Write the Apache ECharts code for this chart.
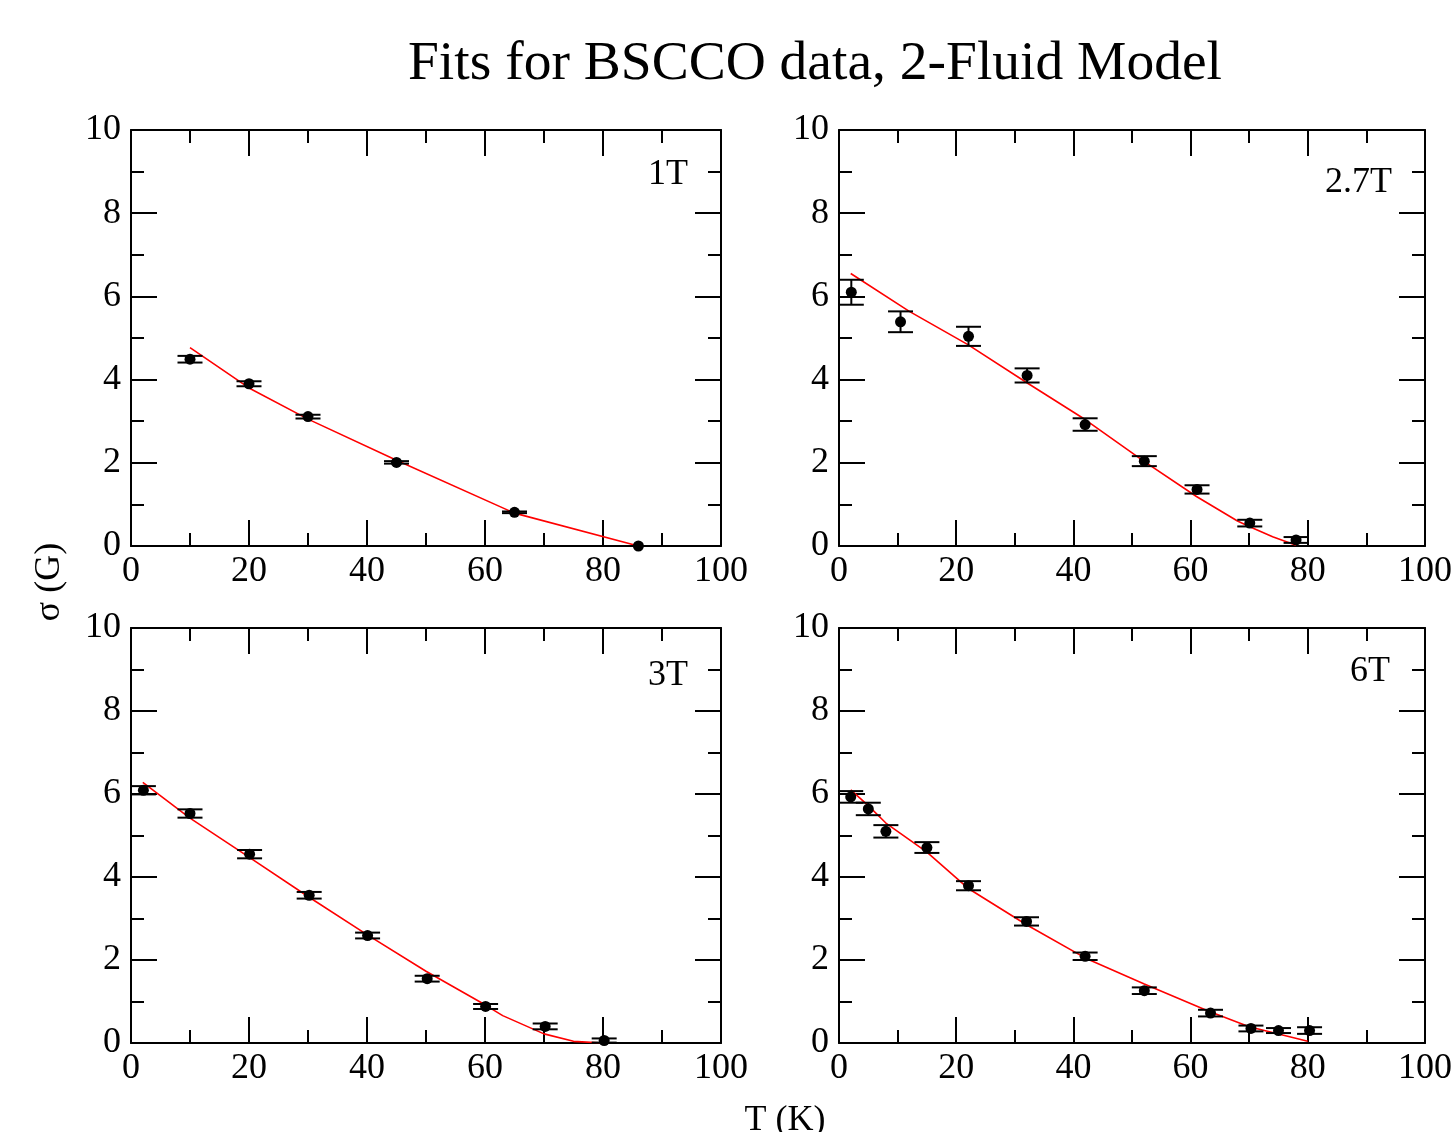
<!DOCTYPE html>
<html>
<head>
<meta charset="utf-8">
<script src="https://cdn.jsdelivr.net/npm/echarts@6/dist/echarts.min.js"></script>
<style>
html,body{margin:0;padding:0;background:#fff;}
#chart{width:1455px;height:1132px;}
</style>
</head>
<body>
<div id="chart"></div>
<script>
// ---------- Data ----------
const PANEL_LABELS = ['1T', '2.7T', '3T', '6T'];

// 1T
const T_1T = [10, 20, 30, 45, 65, 86];
const S_1T = [4.49, 3.90, 3.11, 2.01, 0.81, 0.0];
const E_1T = [0.08, 0.06, 0.045, 0.03, 0.02, 0.0];
const FIT_T_1T = [10, 20, 30, 45, 65, 86];
const FIT_S_1T = [4.77, 3.80, 3.05, 2.06, 0.79, 0.0];

// 2.7T
const T_27T = [2.1, 10.5, 22.1, 32.1, 42.0, 52.1, 61.1, 70.1, 78.0];
const S_27T = [6.10, 5.39, 5.04, 4.10, 2.92, 2.04, 1.36, 0.55, 0.145];
const E_27T = [0.30, 0.25, 0.23, 0.17, 0.15, 0.12, 0.10, 0.08, 0.07];
const FIT_T_27T = [2, 12, 22, 32, 42, 52, 61, 68, 70, 74, 78];
const FIT_S_27T = [6.55, 5.64, 4.84, 3.93, 3.04, 2.04, 1.19, 0.60, 0.47, 0.22, 0.02];

// 3T
const T_3T = [2.1, 10.0, 20.1, 30.2, 40.1, 50.2, 60.1, 70.2, 80.2];
const S_3T = [6.09, 5.53, 4.55, 3.56, 2.59, 1.55, 0.88, 0.40, 0.06];
const E_3T = [0.10, 0.10, 0.10, 0.08, 0.07, 0.07, 0.06, 0.07, 0.05];
const FIT_T_3T = [2, 10, 20, 30, 40, 50, 60, 63, 70, 75, 80];
const FIT_S_3T = [6.28, 5.42, 4.48, 3.53, 2.61, 1.73, 0.92, 0.66, 0.22, 0.04, 0.0];

// 6T
const T_6T = [2.0, 5.0, 8.0, 15.0, 22.1, 32.0, 42.0, 52.1, 63.4, 70.3, 75.0, 80.3];
const S_6T = [5.93, 5.64, 5.10, 4.71, 3.79, 2.93, 2.09, 1.26, 0.72, 0.35, 0.30, 0.30];
const E_6T = [0.14, 0.15, 0.15, 0.13, 0.11, 0.10, 0.09, 0.08, 0.08, 0.07, 0.06, 0.08];
const FIT_T_6T = [2, 5, 8, 15, 22, 32, 42, 52, 63, 70, 80];
const FIT_S_6T = [6.10, 5.72, 5.30, 4.60, 3.73, 2.85, 2.05, 1.43, 0.77, 0.39, 0.04];

const X_MIN = 0, X_MAX = 100, X_STEP = 20;
const Y_MIN = 0, Y_MAX = 10, Y_STEP = 2;

const TITLE = 'Fits for BSCCO data, 2-Fluid Model';
const X_NAME = 'T (K)';
const Y_NAME = 'σ (G)';

// ---------- Build ----------
const panels = [
  {T: T_1T, S: S_1T, E: E_1T, FT: FIT_T_1T, FS: FIT_S_1T},
  {T: T_27T, S: S_27T, E: E_27T, FT: FIT_T_27T, FS: FIT_S_27T},
  {T: T_3T, S: S_3T, E: E_3T, FT: FIT_T_3T, FS: FIT_S_3T},
  {T: T_6T, S: S_6T, E: E_6T, FT: FIT_T_6T, FS: FIT_S_6T}
];

const FONT = "'Liberation Serif', 'Times New Roman', serif";
const grids = [
  {left: 131, top: 130, width: 590, height: 416},
  {left: 839, top: 130, width: 591, height: 416},
  {left: 131, top: 628, width: 590, height: 415},
  {left: 839, top: 628, width: 591, height: 415}
];

const lineStyleBlack = {color: '#000', width: 2};
function axisCommon(showLabel, isX) {
  return {
    type: 'value',
    min: isX ? X_MIN : Y_MIN,
    max: isX ? X_MAX : Y_MAX,
    interval: isX ? X_STEP : Y_STEP,
    splitLine: {show: false},
    axisLine: {show: true, onZero: false, lineStyle: lineStyleBlack},
    axisTick: {show: true, inside: true, length: 26, lineStyle: lineStyleBlack},
    minorTick: {show: true, splitNumber: 2, length: 13, lineStyle: lineStyleBlack},
    axisLabel: {
      show: showLabel, color: '#000', fontFamily: FONT, fontSize: 36,
      margin: isX ? 8 : 10
    }
  };
}

const xAxis = [], yAxis = [], series = [];
panels.forEach((p, i) => {
  xAxis.push(Object.assign(axisCommon(true, true), {gridIndex: i, position: 'bottom'}));
  xAxis.push(Object.assign(axisCommon(false, true), {gridIndex: i, position: 'top'}));
  yAxis.push(Object.assign(axisCommon(true, false), {gridIndex: i, position: 'left'}));
  yAxis.push(Object.assign(axisCommon(false, false), {gridIndex: i, position: 'right'}));
  const xi = 2 * i, yi = 2 * i;

  series.push({
    type: 'line', xAxisIndex: xi, yAxisIndex: yi,
    data: p.FT.map((t, k) => [t, p.FS[k]]),
    showSymbol: false, symbol: 'none',
    lineStyle: {color: '#ff0000', width: 1.6},
    z: 2, silent: true
  });
  series.push({
    type: 'custom', xAxisIndex: xi, yAxisIndex: yi,
    data: p.T.map((t, k) => [t, p.S[k], p.E[k]]),
    encode: {x: 0, y: 1},
    renderItem: function (params, api) {
      const x = api.value(0), y = api.value(1), e = api.value(2);
      const top = api.coord([x, y + e]);
      const bot = api.coord([x, y - e]);
      const hw = 12.5;
      const st = {stroke: '#000', lineWidth: 2};
      return {
        type: 'group',
        children: [
          {type: 'line', shape: {x1: top[0], y1: top[1], x2: bot[0], y2: bot[1]}, style: st},
          {type: 'line', shape: {x1: top[0] - hw, y1: top[1], x2: top[0] + hw, y2: top[1]}, style: st},
          {type: 'line', shape: {x1: bot[0] - hw, y1: bot[1], x2: bot[0] + hw, y2: bot[1]}, style: st}
        ]
      };
    },
    z: 3, silent: true
  });
  series.push({
    type: 'scatter', xAxisIndex: xi, yAxisIndex: yi,
    data: p.T.map((t, k) => [t, p.S[k]]),
    symbol: 'circle', symbolSize: 11,
    itemStyle: {color: '#000', opacity: 1},
    z: 4, silent: true
  });
});

const labelPos = [[688, 175], [1392, 183], [688, 676], [1390, 672]];
const gList = [];
gList.push({
  type: 'text', x: 815, y: 64,
  style: {text: TITLE, font: '55.5px ' + FONT, fill: '#000', textAlign: 'center', textVerticalAlign: 'middle'}
});
PANEL_LABELS.forEach((lab, i) => {
  gList.push({
    type: 'text', x: labelPos[i][0], y: labelPos[i][1],
    style: {text: lab, font: '36px ' + FONT, fill: '#000', textAlign: 'right', textVerticalAlign: 'middle'}
  });
});
gList.push({
  type: 'text', x: 785, y: 1121,
  style: {text: X_NAME, font: '36px ' + FONT, fill: '#000', textAlign: 'center', textVerticalAlign: 'middle'}
});
gList.push({
  type: 'text', x: 50, y: 582, rotation: Math.PI / 2,
  style: {text: Y_NAME, font: '36px ' + FONT, fill: '#000', textAlign: 'center', textVerticalAlign: 'middle'}
});

const chart = echarts.init(document.getElementById('chart'), null, {renderer: 'canvas'});
chart.setOption({
  animation: false,
  backgroundColor: '#fff',
  grid: grids,
  xAxis: xAxis,
  yAxis: yAxis,
  series: series,
  graphic: gList
});
</script>
</body>
</html>
